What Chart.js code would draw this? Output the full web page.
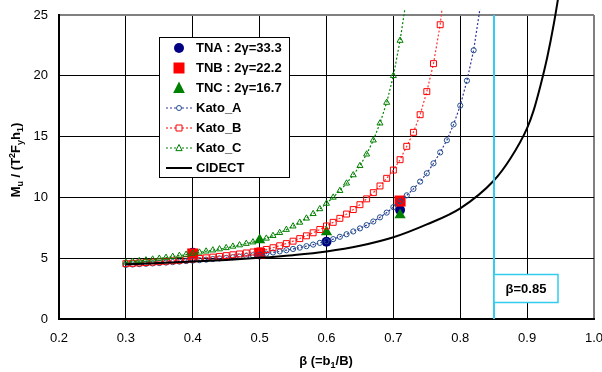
<!DOCTYPE html>
<html lang="en">
<head>
    <meta charset="UTF-8">
    <title>Mu / (T2 Fy h1) vs beta</title>
    <script src="https://cdn.jsdelivr.net/npm/chart.js"></script>
    <style>
        body { margin: 0; background: #fff; }
        canvas { display: block; }
    </style>
</head>
<body>
    <canvas id="chart" width="602" height="372"></canvas>

    <script>
        // x ticks
        const xTicks = [0.2, 0.3, 0.4, 0.5, 0.6, 0.7, 0.8, 0.9, 1.0];
        const yTicks = [0, 5, 10, 15, 20, 25];

        // test results
        const tnaBeta = [0.40, 0.50, 0.60, 0.71];
        const tnaVal = [5.45, 5.30, 6.36, 8.96];
        const tnbBeta = [0.40, 0.50, 0.71];
        const tnbVal = [5.35, 5.40, 9.70];
        const tncBeta = [0.50, 0.60, 0.71];
        const tncVal = [6.50, 7.15, 8.55];

        // Kato curves, beta = 0.30, 0.31, ...
        const katoBeta = [0.30, 0.31, 0.32, 0.33, 0.34, 0.35, 0.36, 0.37, 0.38, 0.39,
                          0.40, 0.41, 0.42, 0.43, 0.44, 0.45, 0.46, 0.47, 0.48, 0.49,
                          0.50, 0.51, 0.52, 0.53, 0.54, 0.55, 0.56, 0.57, 0.58, 0.59,
                          0.60, 0.61, 0.62, 0.63, 0.64, 0.65, 0.66, 0.67, 0.68, 0.69,
                          0.70, 0.71, 0.72, 0.73, 0.74, 0.75, 0.76, 0.77, 0.78, 0.79,
                          0.80, 0.81, 0.82, 0.83];
        const katoA = [4.45, 4.48, 4.51, 4.54, 4.57, 4.60, 4.64, 4.68, 4.72, 4.76,
                       4.80, 4.84, 4.88, 4.93, 4.98, 5.03, 5.08, 5.13, 5.18, 5.24,
                       5.30, 5.38, 5.47, 5.56, 5.66, 5.76, 5.87, 5.99, 6.12, 6.26,
                       6.40, 6.57, 6.76, 6.97, 7.20, 7.45, 7.72, 8.02, 8.36, 8.75,
                       9.20, 9.68, 10.17, 10.70, 11.30, 11.98, 12.80, 13.70, 14.70, 16.00,
                       17.55, 19.60, 22.10, 25.70];
        const katoB = [4.55, 4.58, 4.61, 4.64, 4.68, 4.71, 4.75, 4.79, 4.83, 4.88,
                       4.93, 4.98, 5.03, 5.09, 5.15, 5.21, 5.28, 5.35, 5.43, 5.51,
                       5.60, 5.72, 5.86, 6.02, 6.20, 6.40, 6.61, 6.84, 7.09, 7.36,
                       7.65, 7.95, 8.28, 8.63, 9.00, 9.40, 9.88, 10.39, 10.94, 11.57,
                       12.25, 13.10, 14.20, 15.35, 16.80, 18.70, 21.00, 24.20, 29.00];
        const katoC = [4.66, 4.72, 4.78, 4.84, 4.91, 4.98, 5.05, 5.13, 5.21, 5.30,
                       5.39, 5.48, 5.57, 5.66, 5.75, 5.85, 5.97, 6.08, 6.20, 6.32,
                       6.46, 6.63, 6.85, 7.09, 7.35, 7.63, 7.94, 8.28, 8.65, 9.05,
                       9.50, 10.00, 10.55, 11.16, 11.84, 12.60, 13.55, 14.70, 16.10, 17.80,
                       20.00, 22.90, 26.50];

        // CIDECT design curve
        const cidectBeta = [0.30, 0.35, 0.40, 0.45, 0.50, 0.55, 0.60, 0.65, 0.70, 0.75,
                            0.80, 0.85, 0.875, 0.90, 0.91, 0.92, 0.93, 0.94, 0.95];
        const cidectVal = [4.50, 4.60, 4.72, 4.86, 5.03, 5.25, 5.55, 6.02, 6.72, 7.78,
                           9.10, 11.37, 13.20, 15.70, 17.20, 19.20, 21.50, 24.30, 27.60];

        const betaLimit = 0.85;

        const FONT = '"Liberation Sans", Arial, sans-serif';

        function pts(xs, ys) {
            return ys.map((v, i) => ({ x: xs[i], y: v }));
        }
        // last kato point sits above the plot: line only, no marker
        function hideLast(r, n) {
            return ctx => ctx.dataIndex === n - 1 ? 0 : r;
        }

        // draw a string made of pieces with sub/superscripts
        function richText(ctx, parts, cx, cy) {
            let w = 0;
            parts.forEach(p => {
                ctx.font = 'bold ' + p.s + 'px ' + FONT;
                w += ctx.measureText(p.t).width;
            });
            let x = cx - w / 2;
            ctx.textBaseline = 'alphabetic';
            ctx.textAlign = 'left';
            parts.forEach(p => {
                ctx.font = 'bold ' + p.s + 'px ' + FONT;
                ctx.fillText(p.t, x, cy + (p.dy || 0));
                x += ctx.measureText(p.t).width;
            });
        }

        function marker(ctx, style, x, y, r, fill, stroke) {
            ctx.beginPath();
            if (style === 'circle') {
                ctx.arc(x, y, r, 0, Math.PI * 2);
            } else if (style === 'rect') {
                ctx.rect(x - r, y - r, 2 * r, 2 * r);
            } else {
                ctx.moveTo(x, y - r);
                ctx.lineTo(x + r * 0.9, y + r * 0.75);
                ctx.lineTo(x - r * 0.9, y + r * 0.75);
                ctx.closePath();
            }
            if (fill) { ctx.fillStyle = fill; ctx.fill(); }
            if (stroke) { ctx.strokeStyle = stroke; ctx.lineWidth = 1; ctx.stroke(); }
        }

        const overlay = {
            id: 'overlay',
            afterDatasetsDraw(chart) {
                const ctx = chart.ctx;
                const a = chart.chartArea;
                const xs = chart.scales.x;
                ctx.save();

                // beta = 0.85 limit line and label
                const bx = Math.round(xs.getPixelForValue(betaLimit));
                ctx.strokeStyle = '#33CCEE';
                ctx.lineWidth = 2;
                ctx.beginPath();
                ctx.moveTo(bx, a.top);
                ctx.lineTo(bx, a.bottom);
                ctx.stroke();
                ctx.fillStyle = '#fff';
                ctx.fillRect(bx, 274, 64, 28);
                ctx.lineWidth = 1.5;
                ctx.strokeRect(bx, 274.5, 64, 28);
                ctx.fillStyle = '#000';
                ctx.font = 'bold 13px ' + FONT;
                ctx.textAlign = 'center';
                ctx.textBaseline = 'middle';
                ctx.fillText('\u03b2=0.85', bx + 32, 289);

                // legend
                const lx = 159.5, ly = 37.5;
                ctx.fillStyle = '#fff';
                ctx.fillRect(lx, ly, 130, 140);
                ctx.strokeStyle = '#000';
                ctx.lineWidth = 1;
                ctx.strokeRect(lx, ly, 130, 140);
                const items = [
                    { t: 'TNA : 2\u03b3=33.3', m: 'circle', r: 5, fill: '#000080' },
                    { t: 'TNB : 2\u03b3=22.2', m: 'rect', r: 5.5, fill: '#FF0000' },
                    { t: 'TNC : 2\u03b3=16.7', m: 'tri', r: 6.5, fill: '#008000' },
                    { t: 'Kato_A', m: 'circle', r: 2.5, stroke: '#1F4E8C', line: '#333399', dash: true },
                    { t: 'Kato_B', m: 'rect', r: 3, stroke: '#FF0000', line: '#FF0000', dash: true },
                    { t: 'Kato_C', m: 'tri', r: 3.5, stroke: '#008000', line: '#008000', dash: true },
                    { t: 'CIDECT', line: '#000' }
                ];
                items.forEach((it, i) => {
                    const y = 48 + i * 20;
                    if (it.line) {
                        ctx.strokeStyle = it.line;
                        ctx.lineWidth = it.dash ? 1.2 : 2;
                        ctx.setLineDash(it.dash ? [2, 2] : []);
                        ctx.beginPath();
                        ctx.moveTo(166, y);
                        ctx.lineTo(192, y);
                        ctx.stroke();
                        ctx.setLineDash([]);
                    }
                    if (it.m) {
                        if (it.stroke) {
                            marker(ctx, it.m, 179, y, it.r, '#fff', it.stroke);
                        } else {
                            marker(ctx, it.m, 179, y, it.r, it.fill, null);
                        }
                    }
                    ctx.fillStyle = '#000';
                    ctx.font = 'bold 13px ' + FONT;
                    ctx.textAlign = 'left';
                    ctx.textBaseline = 'middle';
                    ctx.fillText(it.t, 196, y);
                });

                // axis titles
                ctx.fillStyle = '#000';
                richText(ctx, [
                    { t: '\u03b2 (=b', s: 13 },
                    { t: '1', s: 9, dy: 3 },
                    { t: '/B)', s: 13 }
                ], 326, 365);

                ctx.translate(20, 160);
                ctx.rotate(-Math.PI / 2);
                richText(ctx, [
                    { t: 'M', s: 13 },
                    { t: 'u', s: 9, dy: 3 },
                    { t: ' / (T', s: 13 },
                    { t: '2', s: 9, dy: -5 },
                    { t: 'F', s: 13 },
                    { t: 'y', s: 9, dy: 3 },
                    { t: 'h', s: 13 },
                    { t: '1', s: 9, dy: 3 },
                    { t: ')', s: 13 }
                ], 0, 0);

                ctx.restore();
            }
        };

        const kataClip = { left: 5, top: 6, right: 5, bottom: 5 };

        new Chart(document.getElementById('chart').getContext('2d'), {
            type: 'scatter',
            data: {
                datasets: [
                    {
                        label: 'CIDECT',
                        data: pts(cidectBeta, cidectVal),
                        showLine: true,
                        borderColor: '#000',
                        borderWidth: 2,
                        pointRadius: 0,
                        cubicInterpolationMode: 'monotone',
                        clip: { left: 5, top: 15, right: 5, bottom: 5 }
                    },
                    {
                        label: 'Kato_C',
                        data: pts(katoBeta, katoC),
                        showLine: true,
                        borderColor: '#008000',
                        borderWidth: 1.2,
                        borderDash: [2, 2],
                        pointStyle: 'triangle',
                        pointRadius: hideLast(3.5, katoC.length),
                        pointBackgroundColor: 'rgba(0,0,0,0)',
                        pointBorderColor: '#008000',
                        pointBorderWidth: 1,
                        clip: kataClip
                    },
                    {
                        label: 'Kato_B',
                        data: pts(katoBeta, katoB),
                        showLine: true,
                        borderColor: '#FF3333',
                        borderWidth: 1.2,
                        borderDash: [2, 2],
                        pointStyle: 'rect',
                        pointRadius: hideLast(4.2, katoB.length),
                        pointBackgroundColor: 'rgba(0,0,0,0)',
                        pointBorderColor: '#FF0000',
                        pointBorderWidth: 1,
                        clip: kataClip
                    },
                    {
                        label: 'Kato_A',
                        data: pts(katoBeta, katoA),
                        showLine: true,
                        borderColor: '#333399',
                        borderWidth: 1.2,
                        borderDash: [2, 2],
                        pointStyle: 'circle',
                        pointRadius: hideLast(2.6, katoA.length),
                        pointBackgroundColor: 'rgba(0,0,0,0)',
                        pointBorderColor: '#1F4E8C',
                        pointBorderWidth: 1,
                        clip: kataClip
                    },
                    {
                        label: 'TNC : 2\u03b3=16.7',
                        data: pts(tncBeta, tncVal),
                        pointStyle: 'triangle',
                        pointRadius: 6.5,
                        pointBackgroundColor: '#008000',
                        pointBorderColor: '#008000',
                        pointBorderWidth: 0
                    },
                    {
                        label: 'TNB : 2\u03b3=22.2',
                        data: pts(tnbBeta, tnbVal),
                        pointStyle: 'rect',
                        pointRadius: 7.8,
                        pointBackgroundColor: '#FF0000',
                        pointBorderColor: '#FF0000',
                        pointBorderWidth: 0
                    },
                    {
                        label: 'TNA : 2\u03b3=33.3',
                        data: pts(tnaBeta, tnaVal),
                        pointStyle: 'circle',
                        pointRadius: 5,
                        pointBackgroundColor: '#000080',
                        pointBorderColor: '#000080',
                        pointBorderWidth: 0
                    }
                ]
            },
            options: {
                responsive: false,
                animation: false,
                devicePixelRatio: 1,
                layout: { padding: { top: 15, right: 8, left: 0, bottom: 0 } },
                plugins: {
                    legend: { display: false },
                    tooltip: { enabled: false }
                },
                scales: {
                    x: {
                        type: 'linear',
                        min: xTicks[0],
                        max: xTicks[xTicks.length - 1],
                        afterBuildTicks: s => { s.ticks = xTicks.map(v => ({ value: v })); },
                        afterFit: s => { s.height = 53; s.paddingLeft = 0; s.paddingRight = 0; },
                        ticks: {
                            callback: v => v.toFixed(1),
                            color: '#000',
                            font: { family: FONT, size: 13 },
                            padding: 12,
                            maxRotation: 0
                        },
                        grid: {
                            drawTicks: false,
                            color: c => Math.abs(c.tick.value - 1) < 1e-6 ? '#808080' : '#000',
                            lineWidth: c => Math.abs(c.tick.value - 1) < 1e-6 ? 2 : 1
                        },
                        border: { color: '#000', width: 2 }
                    },
                    y: {
                        min: yTicks[0],
                        max: yTicks[yTicks.length - 1],
                        afterBuildTicks: s => { s.ticks = yTicks.map(v => ({ value: v })); },
                        afterFit: s => { s.width = 59; s.paddingTop = 0; s.paddingBottom = 0; },
                        ticks: {
                            color: '#000',
                            font: { family: FONT, size: 13 },
                            padding: 11
                        },
                        grid: {
                            drawTicks: false,
                            color: c => c.tick.value === 25 ? '#808080' : '#000',
                            lineWidth: c => c.tick.value === 25 ? 2 : 1
                        },
                        border: { color: '#000', width: 2 }
                    }
                }
            },
            plugins: [overlay]
        });
    </script>
</body>
</html>
